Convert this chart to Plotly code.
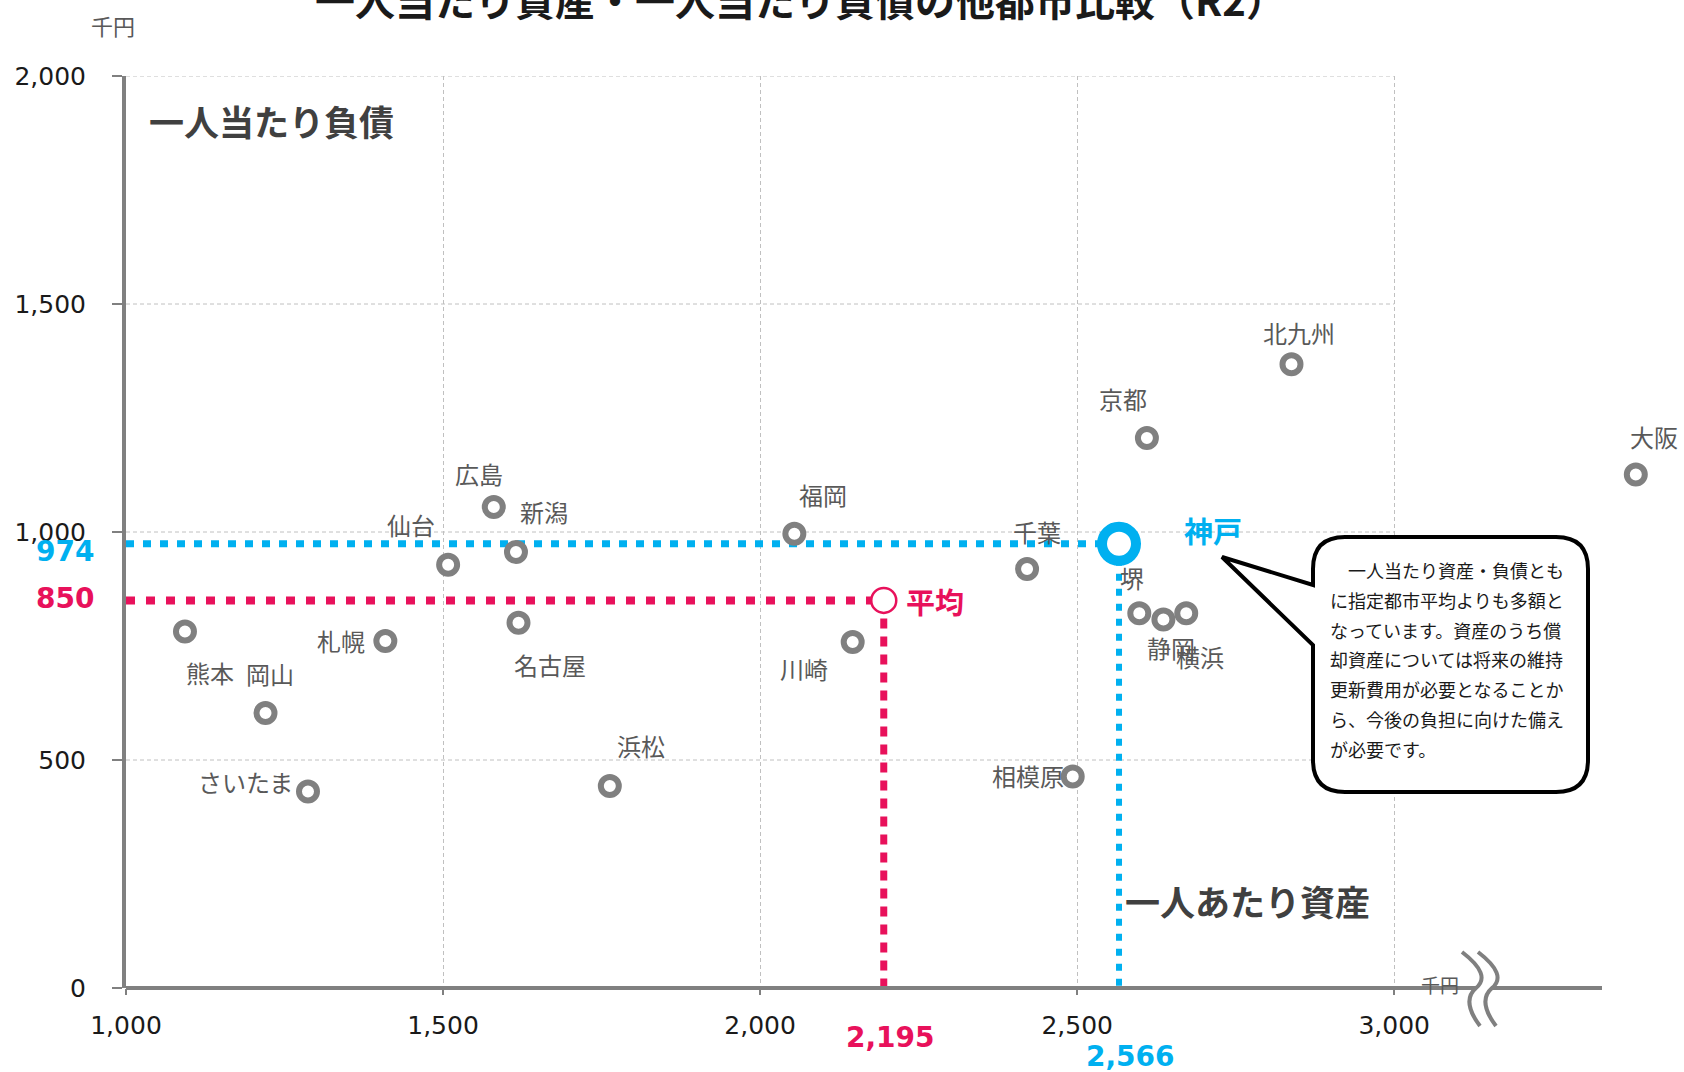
import plotly.graph_objects as go

# ---------------- data ----------------
cities = ["熊本", "岡山", "さいたま", "札幌", "仙台", "広島", "新潟", "名古屋", "浜松",
          "福岡", "川崎", "千葉", "相模原", "京都", "堺", "静岡", "横浜", "北九州", "大阪"]
assets = [1093, 1220, 1287, 1409, 1508, 1580, 1615, 1619, 1763,
          2054, 2146, 2421, 2493, 2610, 2598, 2636, 2672, 2838, 3381]
liabilities = [782, 603, 431, 761, 928, 1055, 956, 801, 443,
               996, 759, 919, 464, 1206, 822, 808, 822, 1368, 1126]

kobe_name = "神戸"
kobe_assets = 2566
kobe_liab = 974
avg_name = "平均"
avg_assets = 2195
avg_liab = 850

x_tickvals = [1000, 1500, 2000, 2500, 3000]
x_ticktext = ["1,000", "1,500", "2,000", "2,500", "3,000"]
y_tickvals = [0, 500, 1000, 1500, 2000]
y_ticktext = ["0", "500", "1,000", "1,500", "2,000"]

title_text = "一人当たり資産・一人当たり負債の他都市比較（R2）"
y_title = "一人当たり負債"
x_title = "一人あたり資産"
unit = "千円"
callout_lines = [
    "　一人当たり資産・負債とも",
    "に指定都市平均よりも多額と",
    "なっています。資産のうち償",
    "却資産については将来の維持",
    "更新費用が必要となることか",
    "ら、今後の負担に向けた備え",
    "が必要です。",
]

# ---------------- layout constants ----------------
W, H = 1684, 1072
ML, MR, MT, MB = 126, 0, 76, 84
PW, PH = W - ML - MR, H - MT - MB
X_MAX = 3457

GRAY = "#808080"
LABEL_GRAY = "#595959"
BLUE = "#00b0f0"
RED = "#e8115b"
JP = "Noto Sans CJK JP"
NUM = "DejaVu Sans"

# label offsets in px (right, up) relative to each point
label_offsets = {
    "熊本": (25, -41), "岡山": (4, 40), "さいたま": (-62, 10), "札幌": (-44, 0),
    "仙台": (-37, 40), "広島": (-15, 33), "新潟": (28, 41), "名古屋": (31, -42),
    "浜松": (31, 40), "福岡": (29, 39), "川崎": (-49, -27), "千葉": (10, 37),
    "相模原": (-45, 1), "京都": (-24, 40), "堺": (-7, 36), "静岡": (8, -28),
    "横浜": (14, -43), "北九州": (8, 32), "大阪": (18, 38),
}


def P(px, py):
    return f"{(px - ML) / PW:.5f},{(H - MB - py) / PH:.5f}"


def px_x(px):
    return (px - ML) / PW


def px_y(py):
    return (H - MB - py) / PH


fig = go.Figure()

# reference lines (Kobe, average)
fig.add_trace(go.Scatter(x=[x_tickvals[0], kobe_assets], y=[kobe_liab, kobe_liab], mode="lines",
                         line=dict(color=BLUE, width=7, dash="8px,9px"), hoverinfo="skip"))
fig.add_trace(go.Scatter(x=[kobe_assets, kobe_assets], y=[kobe_liab, y_tickvals[0]], mode="lines",
                         line=dict(color=BLUE, width=6, dash="7px,8px"), hoverinfo="skip"))
fig.add_trace(go.Scatter(x=[x_tickvals[0], avg_assets], y=[avg_liab, avg_liab], mode="lines",
                         line=dict(color=RED, width=8, dash="9px,11px"), hoverinfo="skip"))
fig.add_trace(go.Scatter(x=[avg_assets, avg_assets], y=[avg_liab, y_tickvals[0]], mode="lines",
                         line=dict(color=RED, width=7, dash="10px,8px"), hoverinfo="skip"))

# cities
fig.add_trace(go.Scatter(x=assets, y=liabilities, mode="markers", text=cities,
                         marker=dict(symbol="circle", size=18, color="white",
                                     line=dict(color=GRAY, width=6)),
                         cliponaxis=False))
# average
fig.add_trace(go.Scatter(x=[avg_assets], y=[avg_liab], mode="markers",
                         marker=dict(symbol="circle", size=25, color="white",
                                     line=dict(color=RED, width=2.5))))
# Kobe
fig.add_trace(go.Scatter(x=[kobe_assets], y=[kobe_liab], mode="markers",
                         marker=dict(symbol="circle", size=34, color="white",
                                     line=dict(color=BLUE, width=10))))

annotations = []
for name, xv, yv in zip(cities, assets, liabilities):
    dx, dy = label_offsets[name]
    annotations.append(dict(x=xv, y=yv, xref="x", yref="y", text=name, showarrow=False,
                            xanchor="center", yanchor="middle",
                            xshift=dx, yshift=dy, font=dict(family=JP, size=24, color=LABEL_GRAY)))

annotations.append(dict(x=kobe_assets, y=kobe_liab, xref="x", yref="y", text=kobe_name,
                        showarrow=False, xanchor="center", yanchor="middle", xshift=94, yshift=14,
                        font=dict(family=JP, size=29, color=BLUE, weight="bold")))
annotations.append(dict(x=avg_assets, y=avg_liab, xref="x", yref="y", text=avg_name,
                        showarrow=False, xanchor="center", yanchor="middle", xshift=51, yshift=-1,
                        font=dict(family=JP, size=29, color=RED, weight="bold")))

# value labels
annotations.append(dict(x=0, xref="paper", y=kobe_liab, yref="y", text=f"{kobe_liab:,}",
                        showarrow=False, xanchor="right", yanchor="middle", xshift=-30, yshift=-8,
                        font=dict(family=NUM, size=28, color=BLUE, weight="bold")))
annotations.append(dict(x=0, xref="paper", y=avg_liab, yref="y", text=f"{avg_liab:,}",
                        showarrow=False, xanchor="right", yanchor="middle", xshift=-30, yshift=2,
                        font=dict(family=NUM, size=28, color=RED, weight="bold")))
annotations.append(dict(x=avg_assets, xref="x", y=0, yref="paper", text=f"{avg_assets:,}",
                        showarrow=False, xanchor="center", yanchor="middle", xshift=7, yshift=-49,
                        font=dict(family=NUM, size=28, color=RED, weight="bold")))
annotations.append(dict(x=kobe_assets, xref="x", y=0, yref="paper", text=f"{kobe_assets:,}",
                        showarrow=False, xanchor="center", yanchor="middle", xshift=11, yshift=-68,
                        font=dict(family=NUM, size=28, color=BLUE, weight="bold")))

# titles
annotations.append(dict(x=px_x(800), y=px_y(30), xref="paper", yref="paper", text=title_text,
                        showarrow=False, xanchor="center", yanchor="bottom",
                        font=dict(family=JP, size=40, color="#1a1a1a", weight="bold")))
annotations.append(dict(x=px_x(271), y=px_y(121), xref="paper", yref="paper", text=y_title,
                        showarrow=False, xanchor="center", yanchor="middle",
                        font=dict(family=JP, size=35, color="#404040", weight="bold")))
annotations.append(dict(x=px_x(1247), y=px_y(900), xref="paper", yref="paper", text=x_title,
                        showarrow=False, xanchor="center", yanchor="middle",
                        font=dict(family=JP, size=35, color="#404040", weight="bold")))
annotations.append(dict(x=px_x(113), y=px_y(25), xref="paper", yref="paper", text=unit,
                        showarrow=False, xanchor="center", yanchor="middle",
                        font=dict(family=JP, size=22, color=LABEL_GRAY)))
annotations.append(dict(x=px_x(1440), y=px_y(984), xref="paper", yref="paper", text=unit,
                        showarrow=False, xanchor="center", yanchor="middle",
                        font=dict(family=JP, size=19, color=LABEL_GRAY)))

# callout text
for i, line in enumerate(callout_lines):
    annotations.append(dict(x=px_x(1328), y=px_y(570 + i * 29.8), xref="paper", yref="paper",
                            text=line, showarrow=False, xanchor="left", yanchor="middle",
                            font=dict(family=JP, size=18, color="#1a1a1a")))

shapes = []
# horizontal grid lines limited to 1000..3000
for v in y_tickvals[1:]:
    shapes.append(dict(type="line", xref="x", yref="y", x0=x_tickvals[0], x1=x_tickvals[-1],
                       y0=v, y1=v, layer="below", line=dict(color="#c0c0c0", width=1, dash="4px,3px")))
# x axis line
shapes.append(dict(type="line", xref="paper", yref="paper", x0=0, x1=px_x(1602), y0=0, y1=0,
                   line=dict(color=GRAY, width=4)))
# axis break
shapes.append(dict(type="path", xref="paper", yref="paper",
                   path=f"M {P(1477,983)} L {P(1491,983)} L {P(1491,994)} L {P(1477,994)} Z",
                   fillcolor="white", line=dict(width=0)))
for off in (0, 16):
    shapes.append(dict(type="path", xref="paper", yref="paper",
                       path=f"M {P(1462+off,952)} Q {P(1492+off,975)} {P(1476+off,988)} "
                            f"Q {P(1461+off,1001)} {P(1480+off,1026)}",
                       line=dict(color=GRAY, width=4)))
# callout balloon
L, R, T, B, r = 1313, 1588, 537, 792, 32
path = (f"M {P(L,585)} L {P(L,T+r)} Q {P(L,T)} {P(L+r,T)} L {P(R-r,T)} Q {P(R,T)} {P(R,T+r)} "
        f"L {P(R,B-r)} Q {P(R,B)} {P(R-r,B)} L {P(L+r,B)} Q {P(L,B)} {P(L,B-r)} "
        f"L {P(L,645)} L {P(1222,557)} Z")
shapes.append(dict(type="path", xref="paper", yref="paper", path=path,
                   fillcolor="white", line=dict(color="black", width=4)))

fig.update_layout(
    width=W, height=H, autosize=False,
    margin=dict(l=ML, r=MR, t=MT, b=MB, pad=0),
    paper_bgcolor="white", plot_bgcolor="white", showlegend=False,
    font=dict(family=JP),
    annotations=annotations, shapes=shapes,
    xaxis=dict(range=[x_tickvals[0], X_MAX], tickmode="array", tickvals=x_tickvals, ticktext=x_ticktext,
               showgrid=True, gridcolor="#c0c0c0", griddash="4px,3px", gridwidth=1,
               showline=False, zeroline=False, ticks="outside", ticklen=6, tickwidth=2, tickcolor=GRAY,
               tickfont=dict(family=NUM, size=25, color="#1a1a1a"), ticklabelstandoff=9),
    yaxis=dict(range=[y_tickvals[0], y_tickvals[-1]], tickmode="array", tickvals=y_tickvals,
               ticktext=y_ticktext, showgrid=False, showline=True, linecolor=GRAY, linewidth=4,
               zeroline=False, ticks="outside", ticklen=10, tickwidth=2, tickcolor=GRAY,
               tickfont=dict(family=NUM, size=25, color="#1a1a1a"), ticklabelstandoff=21),
)

fig.write_html("out.html")
